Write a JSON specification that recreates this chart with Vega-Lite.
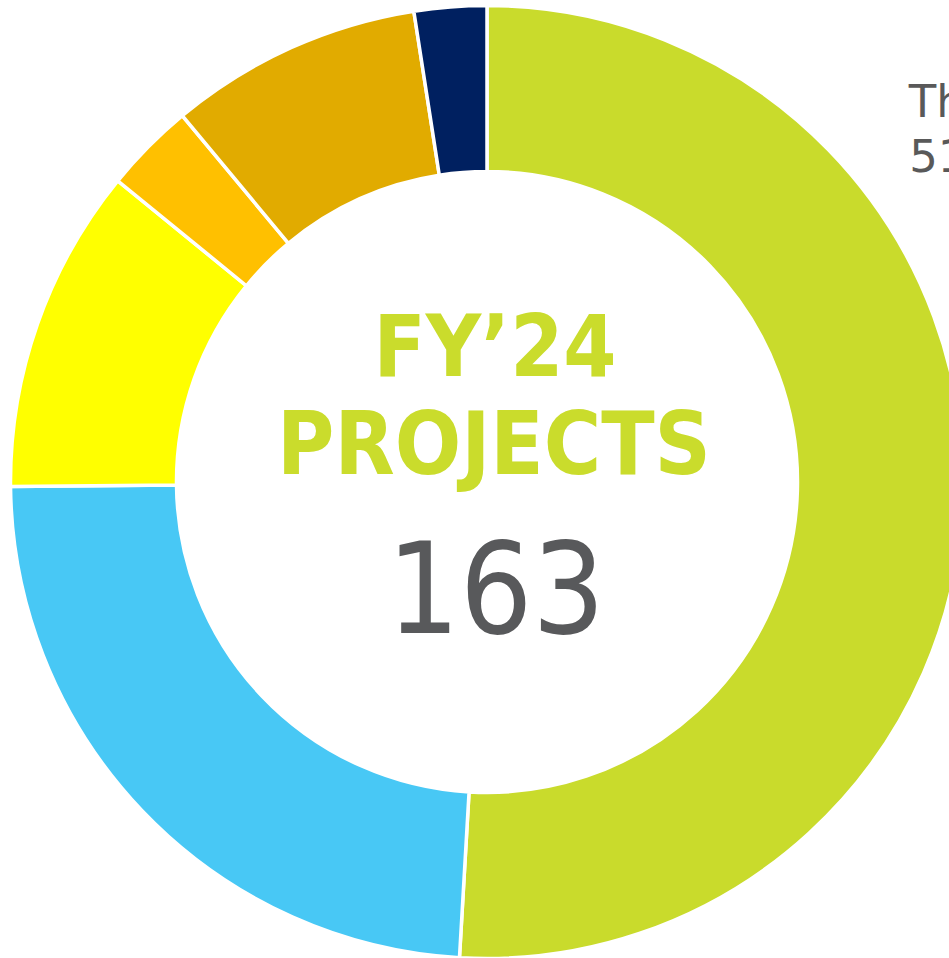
{
  "$schema": "https://vega.github.io/schema/vega-lite/v6.json",
  "width": 974,
  "height": 964,
  "padding": 0,
  "autosize": {"type": "none"},
  "background": "white",
  "config": {"view": {"stroke": null}},
  "data": {
    "values": [
      {"idx": 1, "category": "The largest group", "projects": 83, "share": "51%"},
      {"idx": 2, "category": "Blue", "projects": 39, "share": "24%"},
      {"idx": 3, "category": "Yellow", "projects": 18, "share": "11%"},
      {"idx": 4, "category": "Orange", "projects": 5, "share": "3%"},
      {"idx": 5, "category": "Gold", "projects": 14, "share": "9%"},
      {"idx": 6, "category": "Navy", "projects": 4, "share": "2%"}
    ]
  },
  "layer": [
    {
      "mark": {"type": "arc", "outerRadius": 476.5, "innerRadius": 310.5, "stroke": "white", "strokeWidth": 3.5},
      "encoding": {
        "theta": {"field": "projects", "type": "quantitative", "stack": true},
        "order": {"field": "idx", "type": "quantitative"},
        "color": {
          "field": "category",
          "type": "nominal",
          "scale": {
            "domain": ["The largest group", "Blue", "Yellow", "Orange", "Gold", "Navy"],
            "range": ["#C9DB2C", "#48C8F5", "#FFFF00", "#FFC000", "#E1AB00", "#002060"]
          },
          "legend": null
        }
      }
    },
    {
      "transform": [{"filter": "datum.idx == 1"}],
      "mark": {"type": "text", "align": "left", "baseline": "alphabetic", "theta": 0.857, "radius": 558, "font": "DejaVu Sans", "fontSize": 45, "color": "#595959"},
      "encoding": {"text": {"field": "category"}}
    },
    {
      "transform": [{"filter": "datum.idx == 1"}],
      "mark": {"type": "text", "align": "left", "baseline": "alphabetic", "theta": 0.937, "radius": 524, "font": "DejaVu Sans", "fontSize": 45, "color": "#595959"},
      "encoding": {"text": {"field": "share"}}
    },
    {
      "transform": [{"filter": "datum.idx == 1"}],
      "mark": {"type": "text", "text": "FY’24", "align": "center", "baseline": "alphabetic", "dx": 8, "dy": -106, "font": "DejaVu Sans Condensed", "fontWeight": "bold", "fontSize": 85, "color": "#CADC2C"},
      "encoding": {}
    },
    {
      "transform": [{"filter": "datum.idx == 1"}],
      "mark": {"type": "text", "text": "PROJECTS", "align": "center", "baseline": "alphabetic", "dx": 7, "dy": -8, "font": "DejaVu Sans Condensed", "fontWeight": "bold", "fontSize": 87, "color": "#CADC2C"},
      "encoding": {}
    },
    {
      "transform": [{"filter": "datum.idx == 1"}],
      "mark": {"type": "text", "text": "163", "align": "center", "baseline": "alphabetic", "dx": 9, "dy": 151, "font": "DejaVu Sans Condensed", "fontSize": 127, "color": "#58595B"},
      "encoding": {}
    }
  ]
}
